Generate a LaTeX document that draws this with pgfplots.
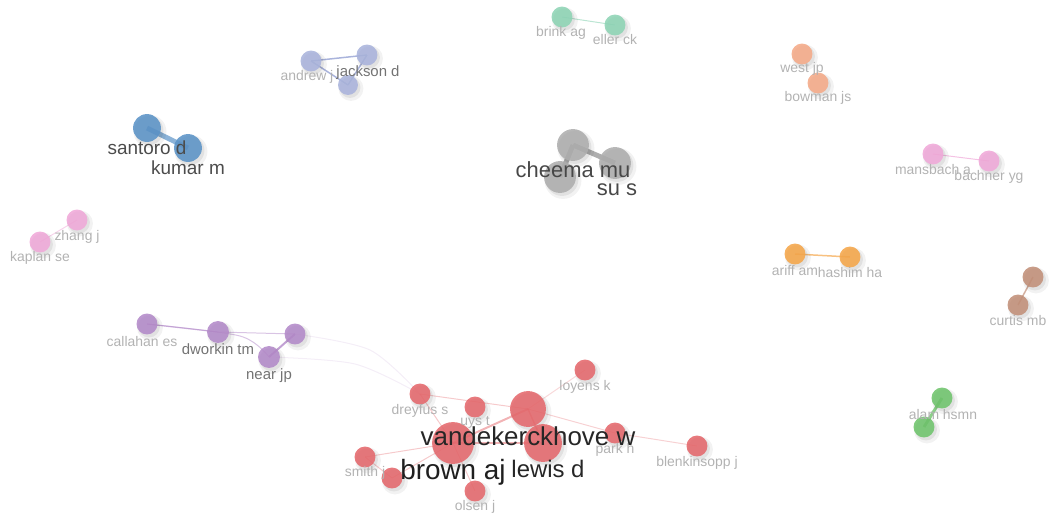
\documentclass[border=0pt]{standalone}
\usepackage{pgfplots}
\pgfplotsset{compat=1.18}
\usepackage{pgfplotstable}
\usepackage{fontspec}
\setmainfont{Liberation Sans}
\definecolor{cBlue}{HTML}{5B93C7}
\definecolor{cLav}{HTML}{AAB4DC}
\definecolor{cTeal}{HTML}{8ED4B5}
\definecolor{cGray}{HTML}{AEAEAE}
\definecolor{cSalm}{HTML}{F5AA88}
\definecolor{cPink}{HTML}{F0A8D8}
\definecolor{cOrng}{HTML}{F5A64A}
\definecolor{cBrwn}{HTML}{C29079}
\definecolor{cGrn}{HTML}{6FC46C}
\definecolor{cPurp}{HTML}{B38AC9}
\definecolor{cRed}{HTML}{E5686C}

\pgfplotstableread{
x y r
147 128 14
188 148 14
}\tBlue
\pgfplotstableread{
x y r
311 61 10.5
367 55 10.5
348 85 10
}\tLav
\pgfplotstableread{
x y r
562 17 10.5
615 25 10.5
}\tTeal
\pgfplotstableread{
x y r
573 145 16
560 177 16
615 163 16
}\tGray
\pgfplotstableread{
x y r
802 54 10.5
818 83 10.5
}\tSalm
\pgfplotstableread{
x y r
933 154 10.5
989 161 10.5
77 220 10.5
40 242 10.5
}\tPink
\pgfplotstableread{
x y r
795 254 10.5
850 257 10.5
}\tOrng
\pgfplotstableread{
x y r
1033 277 10.5
1018 305 10.5
}\tBrwn
\pgfplotstableread{
x y r
942 398 10.5
924 427 10.5
}\tGrn
\pgfplotstableread{
x y r
147 324 10.5
218 332 11
295 334 10.5
269 357 11
}\tPurp
\pgfplotstableread{
x y r
420 394 10.5
475 407 10.5
585 370 10.5
615 433 10.5
697 446 10.5
365 457 10.5
392 478 10.5
475 491 10.5
528 409 18
543 443 19
453 443 21
}\tRed

\pgfplotstableread[col sep=comma]{
x,y,label
307,77,andrew j
561,33,brink ag
615,40,eller ck
802,69,west jp
818,98,bowman js
933,170,mansbach a
989,177,bachner yg
77,237,zhang j
40,258,kaplan se
795,271,ariff am
850,273,hashim ha
1018,321,curtis mb
943,415,alam hsmn
142,342,callahan es
420,411,dreyfus s
475,422,uys t
585,387,loyens k
615,450,park h
697,463,blenkinsopp j
365,473,smith j
475,507,olsen j
}\tLabSmall
\pgfplotstableread[col sep=comma]{
x,y,label
368,73,jackson d
218,349,dworkin tm
269,376,near jp
}\tLabMid
\pgfplotstableread[col sep=comma]{
x,y,label
147,148,santoro d
188,168,kumar m
}\tLabBlue
\pgfplotstableread[col sep=comma]{
x,y,label
573,170,cheema mu
617,190,su s
}\tLabGray
\pgfplotstableread[col sep=comma]{
x,y,label
528,436,vandekerckhove w
}\tLabV
\pgfplotstableread[col sep=comma]{
x,y,label
453,472,brown aj
}\tLabB
\pgfplotstableread[col sep=comma]{
x,y,label
548,469,lewis d
}\tLabL

\newcommand\cluster[2]{%
  \addplot[scatter, only marks, mark=*,
    scatter/use mapped color={draw=black, draw opacity=0, fill=black, fill opacity=0.05},
    visualization depends on={\thisrow{r}\as\rr},
    scatter/@pre marker code/.append style={/tikz/mark size=\rr+2.5,/tikz/xshift=3pt,/tikz/yshift=-3.5pt}]
    table[x=x,y=y] {#1};
  \addplot[scatter, only marks, mark=*,
    scatter/use mapped color={draw=black, draw opacity=0, fill=black, fill opacity=0.07},
    visualization depends on={\thisrow{r}\as\rr},
    scatter/@pre marker code/.append style={/tikz/mark size=\rr+0.5,/tikz/xshift=2pt,/tikz/yshift=-2.5pt}]
    table[x=x,y=y] {#1};
  \addplot[scatter, only marks, mark=*,
    scatter/use mapped color={draw=#2, draw opacity=0, fill=#2, fill opacity=0.88},
    visualization depends on={\thisrow{r}\as\rr},
    scatter/@pre marker code/.append style={/tikz/mark size=\rr}]
    table[x=x,y=y] {#1};
}
\newcommand\labels[3]{%
  \addplot[draw=none, nodes near coords, point meta=explicit symbolic,
    every node near coord/.style={font=\fontsize{#2}{#2}\selectfont,
      text=black!#3, anchor=center, inner sep=0pt}]
    table[x=x, y=y, meta=label] {#1};
}
\pgfplotsset{netaxis/.style={x=1bp, y=1bp, xmin=0, xmax=1050, ymin=0, ymax=520,
  y dir=reverse, hide axis, scale only axis, clip=false, at={(0,0)}, anchor=south west}}

\begin{document}
\begin{tikzpicture}
\begin{axis}[netaxis]
% edges
\addplot[cBlue, opacity=0.7, line width=5pt] coordinates {(147,128) (188,148)};
\addplot[cLav, line width=1.5pt] coordinates {(311,61) (367,55)};
\addplot[cLav, line width=1.5pt] coordinates {(311,61) (348,85)};
\addplot[cLav, line width=1.5pt] coordinates {(367,55) (348,85)};
\addplot[cTeal, opacity=0.6, line width=1pt] coordinates {(562,17) (615,25)};
\addplot[cGray, line width=5pt] coordinates {(573,145) (560,177)};
\addplot[cGray, line width=5pt] coordinates {(573,145) (615,163)};
\addplot[cPink, opacity=0.7, line width=1pt] coordinates {(933,154) (989,161)};
\addplot[cPink, opacity=0.5, line width=1pt] coordinates {(77,220) (40,242)};
\addplot[cOrng, opacity=0.7, line width=1.5pt] coordinates {(795,254) (850,257)};
\addplot[cBrwn, opacity=0.7, line width=1.5pt] coordinates {(1033,277) (1018,305)};
\addplot[cGrn, opacity=0.8, line width=3pt] coordinates {(942,398) (924,427)};
\addplot[cPurp, opacity=0.6, line width=1.2pt] coordinates {(147,324) (218,332)};
\addplot[cPurp, opacity=0.5, line width=1pt] coordinates {(218,332) (295,334)};
\addplot[cPurp, opacity=0.5, line width=1pt, smooth] coordinates {(147,324) (240,336) (269,357)};
\addplot[cPurp, opacity=0.8, line width=2pt] coordinates {(295,334) (269,357)};
\addplot[cPurp, opacity=0.15, line width=1pt, smooth] coordinates {(295,334) (370,350) (420,394)};
\addplot[cPurp, opacity=0.15, line width=1pt, smooth] coordinates {(269,357) (355,364) (420,394)};
\addplot[cRed, opacity=0.35, line width=1pt] coordinates {(420,394) (528,409)};
\addplot[cRed, opacity=0.35, line width=1pt] coordinates {(420,394) (453,443)};
\addplot[cRed, opacity=0.5, line width=2pt] coordinates {(453,443) (528,409)};
\addplot[cRed, opacity=0.5, line width=1.5pt] coordinates {(453,443) (543,443)};
\addplot[cRed, opacity=0.5, line width=1.5pt] coordinates {(528,409) (543,443)};
\addplot[cRed, opacity=0.25, line width=1pt] coordinates {(528,409) (585,370)};
\addplot[cRed, opacity=0.3, line width=1pt] coordinates {(528,409) (615,433)};
\addplot[cRed, opacity=0.3, line width=1pt] coordinates {(615,433) (697,446)};
\addplot[cRed, opacity=0.35, line width=1pt] coordinates {(453,443) (365,457)};
\addplot[cRed, opacity=0.35, line width=1pt] coordinates {(453,443) (392,478)};
\addplot[cRed, opacity=0.35, line width=1pt] coordinates {(453,443) (475,491)};
\addplot[cRed, opacity=0.35, line width=1pt] coordinates {(365,457) (392,478)};
% nodes
\cluster{\tBlue}{cBlue}
\cluster{\tLav}{cLav}
\cluster{\tTeal}{cTeal}
\cluster{\tGray}{cGray}
\cluster{\tSalm}{cSalm}
\cluster{\tPink}{cPink}
\cluster{\tOrng}{cOrng}
\cluster{\tBrwn}{cBrwn}
\cluster{\tGrn}{cGrn}
\cluster{\tPurp}{cPurp}
\cluster{\tRed}{cRed}
\end{axis}
\begin{axis}[netaxis]
% labels
\labels{\tLabSmall}{14}{30}
\labels{\tLabMid}{15}{55}
\labels{\tLabBlue}{19}{70}
\labels{\tLabGray}{22}{72}
\labels{\tLabV}{26}{85}
\labels{\tLabB}{28}{88}
\labels{\tLabL}{24}{85}
\end{axis}
\pgfresetboundingbox
\path (0,0) rectangle (1050bp,520bp);
\end{tikzpicture}
\end{document}
